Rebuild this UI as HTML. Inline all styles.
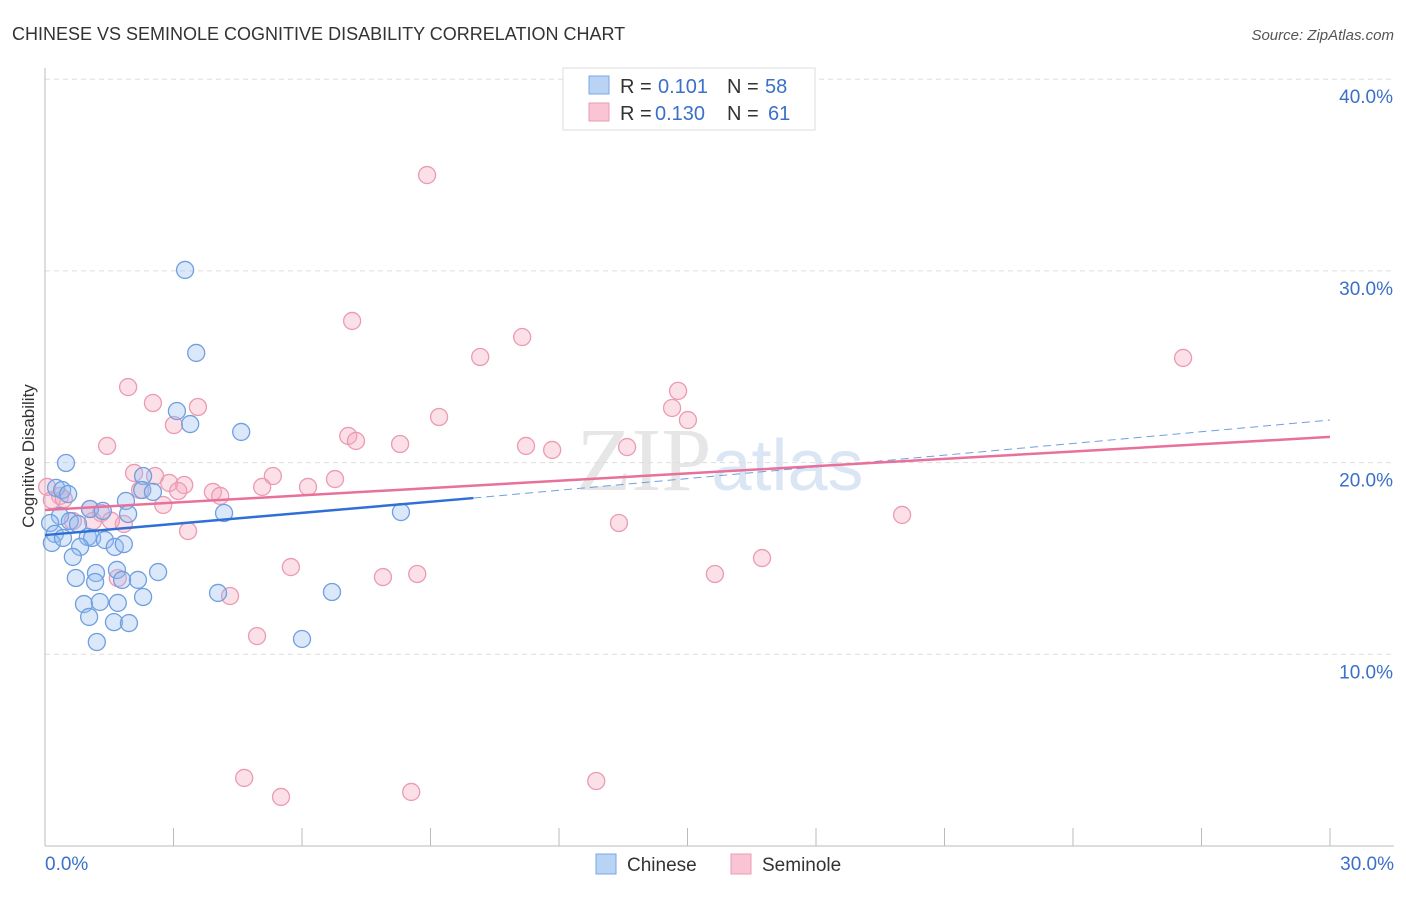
<!DOCTYPE html>
<html><head><meta charset="utf-8">
<style>
body{margin:0;background:#fff;font-family:"Liberation Sans",sans-serif;}
</style></head><body>
<svg id="chart" width="1406" height="892" xmlns="http://www.w3.org/2000/svg" font-family="Liberation Sans, sans-serif">
<text x="12" y="40" font-size="18" fill="#333">CHINESE VS SEMINOLE COGNITIVE DISABILITY CORRELATION CHART</text>
<text x="1394" y="40" font-size="15" fill="#555" font-style="italic" text-anchor="end">Source: ZipAtlas.com</text>
<text x="720" y="490" font-size="90" fill="#e6e6e6" text-anchor="middle" font-family="Liberation Serif, serif">ZIP<tspan fill="#dbe6f4" font-family="Liberation Sans, sans-serif" font-size="72">atlas</tspan></text>
<g id="grid"></g>
<g id="axes"></g>
<text transform="translate(34,456) rotate(-90)" font-size="17" fill="#333" text-anchor="middle">Cognitive Disability</text>
<g id="marks"></g>
<g>
<rect x="563" y="68" width="252" height="62" fill="#fff" stroke="#ddd"/>
<rect x="589" y="76" width="20" height="18" fill="#b9d3f5" stroke="#7aa6e6"/>
<text x="620" y="93" font-size="20" fill="#333">R =</text>
<text x="658" y="93" font-size="20" fill="#3a70c8">0.101</text>
<text x="727" y="93" font-size="20" fill="#333">N =</text>
<text x="765" y="93" font-size="20" fill="#3a70c8">58</text>
<rect x="589" y="103" width="20" height="18" fill="#f9c5d4" stroke="#ee9ab2"/>
<text x="620" y="120" font-size="20" fill="#333">R =</text>
<text x="655" y="120" font-size="20" fill="#3a70c8">0.130</text>
<text x="727" y="120" font-size="20" fill="#333">N =</text>
<text x="768" y="120" font-size="20" fill="#3a70c8">61</text>
</g>
<g>
<rect x="596" y="854" width="20" height="20" fill="#b9d3f5" stroke="#7aa6e6"/>
<text x="627" y="871" font-size="19" fill="#333">Chinese</text>
<rect x="731" y="854" width="20" height="20" fill="#f9c5d4" stroke="#ee9ab2"/>
<text x="762" y="871" font-size="19" fill="#333">Seminole</text>
</g>
</svg>
<script>
const yTicks=[10,20,30,40];
const yTickLabels=["10.0%","20.0%","30.0%","40.0%"];
const xLabels=["0.0%","30.0%"];
const chineseX=[0.49,3.27,3.53,3.08,3.39,4.58,0.26,0.4,0.54,2.29,2.27,2.52,1.89,1.05,1.35,1.94,4.18,8.31,0.35,0.58,0.77,0.12,0.23,0.16,0.42,1.0,1.1,1.4,0.82,1.63,1.84,0.65,0.72,1.19,1.17,1.68,1.8,2.17,2.64,0.91,1.28,1.7,2.29,4.04,6.7,1.03,1.61,1.96,1.21,6.0];
const chineseY=[19.98,30.05,25.72,22.69,22.01,21.6,18.68,18.57,18.36,19.3,18.57,18.47,18.0,17.58,17.48,17.32,17.37,17.42,17.21,16.95,16.8,16.85,16.28,15.81,16.07,16.12,16.07,15.96,15.6,15.6,15.75,15.08,13.98,14.24,13.77,14.4,13.88,13.88,14.29,12.62,12.73,12.68,12.99,13.2,13.25,11.95,11.68,11.63,10.64,10.8];
const seminoleX=[8.92,7.17,10.16,11.14,26.57,1.94,2.52,3.57,3.01,1.45,7.08,7.26,8.29,9.2,11.23,11.84,13.59,14.64,14.78,15.01,2.08,2.57,2.9,3.25,3.11,2.22,5.32,6.77,5.07,6.14,3.92,4.09,2.76,0.05,0.35,0.16,0.44,1.05,1.31,0.65,1.12,1.84,1.54,3.34,13.4,20.01,5.74,7.89,8.69,15.64,16.74,1.7,4.32,4.95,4.65,5.51,8.55,12.87];
const seminoleY=[35.0,27.39,25.51,26.55,25.46,23.94,23.11,22.9,21.96,20.87,21.39,21.13,20.97,22.38,20.87,20.66,20.81,22.85,23.74,22.22,19.46,19.3,18.94,18.83,18.52,18.57,19.3,19.14,18.73,18.73,18.47,18.26,17.79,18.73,18.26,18.05,18.1,17.58,17.37,16.95,16.95,16.8,16.97,16.43,16.85,17.27,14.55,14.03,14.19,14.19,15.02,13.98,13.04,10.95,3.55,2.56,2.82,3.39];
const chineseTrend=[16.22,18.15,22.22];
const seminoleTrend=[17.53,21.34];
const NS="http://www.w3.org/2000/svg";
const X=v=>45+v/30*1285, Y=v=>846-v*19.17;
function mk(t,a,p){const e=document.createElementNS(NS,t);for(const k in a)e.setAttribute(k,a[k]);document.getElementById(p).appendChild(e);return e;}
yTicks.forEach((t,i)=>{
 const l=mk('line',{x1:45,x2:1394,y1:Y(t),y2:Y(t),stroke:'#ddd','stroke-dasharray':'5,4'},'grid');
 
 
 const tx=mk('text',{x:1393,y:Y(t)+24,'font-size':19,fill:'#3a70c8','text-anchor':'end'},'axes');
 tx.textContent=yTickLabels[i];
 
 
});
mk('line',{x1:45,x2:45,y1:68,y2:846,stroke:'#bbb'},'axes');
mk('line',{x1:45,x2:1394,y1:846,y2:846,stroke:'#bbb'},'axes');
for(let i=0;i<=10;i++){const x=X(i*3);const t=mk('line',{x1:x,x2:x,y1:828,y2:846,stroke:'#bbb'},'axes');}
[[0,'start',45],[1,'end',1394]].forEach(([i,a,x])=>{const t=mk('text',{x:x,y:870,'font-size':19,fill:'#3a70c8','text-anchor':a},'axes');t.textContent=xLabels[i];});
seminoleX.forEach((v,i)=>{const c=mk('circle',{cx:X(v),cy:Y(seminoleY[i]),r:8.5,fill:'rgba(246,166,190,0.35)',stroke:'#eb9ab2','stroke-width':1.3},'marks');});
chineseX.forEach((v,i)=>{const c=mk('circle',{cx:X(v),cy:Y(chineseY[i]),r:8.5,fill:'rgba(150,190,240,0.35)',stroke:'#6f9fe0','stroke-width':1.3},'marks');});
let l=mk('line',{x1:X(10),y1:Y(chineseTrend[1]),x2:X(30),y2:Y(chineseTrend[2]),stroke:'#6f9fe0','stroke-width':1,'stroke-dasharray':'8,5'},'marks');


l=mk('line',{x1:X(0),y1:Y(seminoleTrend[0]),x2:X(30),y2:Y(seminoleTrend[1]),stroke:'#e8709a','stroke-width':2.5},'marks');


l=mk('line',{x1:X(0),y1:Y(chineseTrend[0]),x2:X(10),y2:Y(chineseTrend[1]),stroke:'#2f6fd6','stroke-width':2.5},'marks');


</script>
</body></html>
